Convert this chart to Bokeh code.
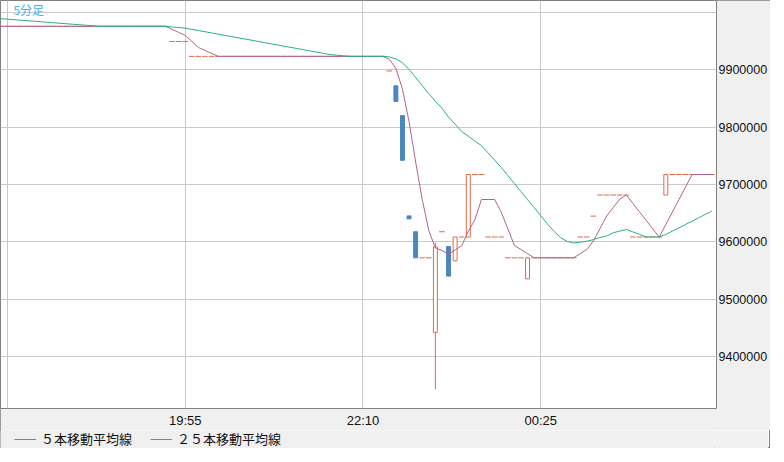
from bokeh.plotting import figure
from bokeh.layouts import column
from bokeh.models import ColumnDataSource, FixedTicker, Legend, LegendItem, Range1d
from bokeh.embed import file_html
from bokeh.resources import INLINE
from bokeh.core.properties import value

# ---------------- data ----------------
chart_title = "5分足"
legend_labels = ["５本移動平均線", "２５本移動平均線"]

# x tick positions are bar numbers (bar 0 = 17:40, one bar = 5 minutes)
time_tick_index = [0, 27, 54, 81]
time_tick_labels = ["", "19:55", "22:10", "00:25"]

price_ticks = [9300000, 9400000, 9500000, 9600000, 9700000, 9800000, 9900000, 10000000]
price_tick_labels = ["9300000", "9400000", "9500000", "9600000", "9700000", "9800000", "9900000", ""]

first_bar = -1  # 17:35

close = ([9975300] * 26 + [9948900] * 3 + [9923000] * 30 +
         [9897600, 9844600, 9742100, 9640200, 9572400, 9572400, 9572400,
          9591300, 9617800, 9540600, 9608600, 9608600, 9717400, 9717400, 9717400,
          9608600, 9608600, 9608600, 9572400, 9572400, 9572400, 9572400] +
         [9572400] * 7 +
         [9608600, 9608600, 9645000] + [9681700] * 5 + [9608600] * 5 +
         [9717400] + [9717400] * 7)

open_ = ([9975300] * 26 + [9948900] * 3 + [9923000] * 30 +
         [9897600, 9871700, 9819900, 9645400, 9617800, 9572400, 9572400,
          9442800, 9617800, 9591900, 9567200, 9608600, 9608600, 9717400, 9717400,
          9608600, 9608600, 9608600, 9572400, 9572400, 9572400, 9535800] +
         [9572400] * 7 +
         [9608600, 9608600, 9645000] + [9681700] * 5 + [9608600] * 5 +
         [9681700] + [9717400] * 7)

high = ([9975300] * 26 + [9948900] * 3 + [9923000] * 30 +
        [9897600, 9871700, 9819900, 9645400, 9617800, 9572400, 9572400,
         9598700, 9617800, 9591900, 9608600, 9608600, 9717400, 9717400, 9717400,
         9608600, 9608600, 9608600, 9572400, 9572400, 9572400, 9572400] +
        [9572400] * 7 +
        [9608600, 9608600, 9645000] + [9681700] * 5 + [9608600] * 5 +
        [9717400] + [9717400] * 7)

low = ([9975300] * 26 + [9948900] * 3 + [9923000] * 30 +
       [9897600, 9844600, 9742100, 9640200, 9572400, 9572400, 9572400,
        9343700, 9617800, 9540600, 9567200, 9608600, 9608600, 9717400, 9717400,
        9608600, 9608600, 9608600, 9572400, 9572400, 9572400, 9535800] +
       [9572400] * 7 +
       [9608600, 9608600, 9645000] + [9681700] * 5 + [9608600] * 5 +
       [9681700] + [9717400] * 7)

ma5 = ([9975300] * 26 +
       [9970020, 9964740, 9959460, 9949000, 9938540, 9933360, 9928180] +
       [9923000] * 26 +
       [9917920, 9902240, 9866060, 9809500, 9739300, 9674200, 9619700, 9589500,
        9585100, 9578800, 9586000, 9593300, 9618600, 9638500, 9673900, 9673900,
        9673900, 9652100, 9623200, 9594100, 9586900, 9579600] +
       [9572400] * 7 +
       [9579600, 9586900, 9601400, 9623300, 9645100, 9659700, 9674400, 9681700,
        9667100, 9652500, 9637800, 9623200, 9608600, 9630400, 9652100, 9673900,
        9695600] +
       [9717400] * 4)

ma25 = ([9988600, 9987700, 9986800, 9985900, 9985000, 9984200, 9983300, 9982400,
         9981500, 9980600, 9979700, 9978800, 9977900, 9977100, 9976200, 9975300] +
        [9975300] * 10 +
        [9974200, 9973200, 9972100,
         9970000, 9967900, 9965900, 9963800, 9961700, 9959600, 9957500, 9955400,
         9953300, 9951300, 9949100, 9947000, 9945000, 9942900, 9940800, 9938700,
         9936600, 9934500, 9932400, 9930300, 9928200, 9926100, 9925100, 9924000] +
        [9923000] * 6 +
        [9922000, 9918800, 9911600, 9900300, 9886300, 9872200, 9858200, 9844900,
         9832700, 9817400, 9804800, 9792200, 9784000, 9775800, 9767600, 9755000,
         9742400, 9729800, 9715800, 9701800, 9687800, 9673700, 9659700, 9645700,
         9631700, 9618700, 9607800, 9601000, 9598300, 9599700, 9601200, 9604100,
         9607800, 9610300, 9616000, 9618900, 9621800, 9617500, 9613100, 9608700,
         9608700, 9608700, 9613100, 9618900, 9624700, 9630500, 9636300, 9642100,
         9647900, 9653700])

# ---------------- styles ----------------
UP = "#de6a48"
DOWN = "#4b87be"
MA5_COLOR = "#b3638a"
MA25_COLOR = "#2bb07c"
GRID = "#c9c9c9"
PANEL = "#f0f0f0"
JP_FONT = "Noto Sans CJK JP"
NUM_FONT = "Liberation Sans"

bars = list(range(first_bar, first_bar + len(close)))

up_src = ColumnDataSource(dict(
    x=[b for b, o, c in zip(bars, open_, close) if c > o],
    top=[c for o, c in zip(open_, close) if c > o],
    bottom=[o for o, c in zip(open_, close) if c > o]))
down_src = ColumnDataSource(dict(
    x=[b for b, o, c in zip(bars, open_, close) if c < o],
    top=[o for o, c in zip(open_, close) if c < o],
    bottom=[c for o, c in zip(open_, close) if c < o]))
doji_src = ColumnDataSource(dict(
    x0=[b - 0.43 for b, o, c in zip(bars, open_, close) if c == o],
    x1=[b + 0.43 for b, o, c in zip(bars, open_, close) if c == o],
    y=[c for o, c in zip(open_, close) if c == o]))
wick_src = ColumnDataSource(dict(
    x=[b for b, h, l in zip(bars, high, low) if h > l],
    high=[h for h, l in zip(high, low) if h > l],
    low=[l for h, l in zip(high, low) if h > l],
    color=[UP if c >= o else DOWN for h, l, o, c in zip(high, low, open_, close) if h > l]))
ma_src = ColumnDataSource(dict(x=bars, ma5=ma5, ma25=ma25))

p = figure(frame_width=716, frame_height=408,
           x_range=Range1d(-1.056, 107.70), y_range=Range1d(9310190, 10020207),
           y_axis_location="right", output_backend="svg", toolbar_location=None,
           min_border_left=0, min_border_top=0, min_border_right=52, min_border_bottom=20,
           background_fill_color="white", border_fill_color=PANEL,
           outline_line_color="#808080", outline_line_width=1)

p.xaxis.ticker = FixedTicker(ticks=time_tick_index)
p.xaxis.major_label_overrides = dict(zip(time_tick_index, time_tick_labels))
p.yaxis.ticker = FixedTicker(ticks=price_ticks)
p.yaxis.major_label_overrides = dict(zip(price_ticks, price_tick_labels))
for ax in (p.xaxis[0], p.yaxis[0]):
    ax.axis_line_color = None
    ax.major_tick_line_color = None
    ax.minor_tick_line_color = None
    ax.major_tick_out = 0
    ax.major_tick_in = 0
    ax.major_label_text_font = NUM_FONT
    ax.major_label_text_color = "#111111"
p.xaxis.major_label_text_font_size = "13px"
p.yaxis.major_label_text_font_size = "12.5px"
p.yaxis.major_label_standoff = 2
p.xaxis.major_label_standoff = 4
p.xgrid.grid_line_color = GRID
p.ygrid.grid_line_color = GRID

# candles
p.segment(x0="x", y0="high", x1="x", y1="low", color="color", line_width=1, source=wick_src)
p.vbar(x="x", width=0.6, top="top", bottom="bottom", fill_color="white",
       line_color=UP, line_width=1, source=up_src)
p.vbar(x="x", width=0.6, top="top", bottom="bottom", fill_color=DOWN,
       line_color=DOWN, line_width=1, source=down_src)
p.segment(x0="x0", y0="y", x1="x1", y1="y", color=UP, line_width=1, source=doji_src)

# moving averages
r5 = p.line(x="x", y="ma5", color=MA5_COLOR, line_width=1, source=ma_src)
r25 = p.line(x="x", y="ma25", color=MA25_COLOR, line_width=1, source=ma_src)

# title inside the plot
p.text(x=[0.9], y=[10020207], text=[chart_title], text_font=value(JP_FONT),
       text_font_size="12px", text_color="#3cb4ee", text_baseline="top", text_align="left")

# legend strip under the chart (its sample renderers sit outside the strip's ranges)
lf = figure(width=768, height=18, x_range=Range1d(0, 1), y_range=Range1d(0, 1),
            x_axis_type=None, y_axis_type=None, output_backend="svg", toolbar_location=None,
            min_border=0, background_fill_color=PANEL, border_fill_color=PANEL,
            outline_line_color=None)
l5 = lf.line(x=[5, 6], y=[5, 5], color=MA5_COLOR, line_width=1)
l25 = lf.line(x=[5, 6], y=[6, 6], color=MA25_COLOR, line_width=1)
legend = Legend(items=[LegendItem(label=legend_labels[0], renderers=[l5]),
                       LegendItem(label=legend_labels[1], renderers=[l25])],
                orientation="horizontal", location=(14, 0), margin=0, padding=1,
                spacing=18, glyph_width=22, glyph_height=16, label_height=16,
                label_standoff=5, label_text_font=JP_FONT, label_text_font_size="13px",
                label_text_color="#111111", background_fill_alpha=0,
                border_line_color=None)
lf.add_layout(legend, "center")

layout = column(p, lf, spacing=0)
layout.styles = {"outline": "1px solid #808080", "outline-offset": "-1px"}

open("out.html", "w").write(file_html(layout, INLINE))
